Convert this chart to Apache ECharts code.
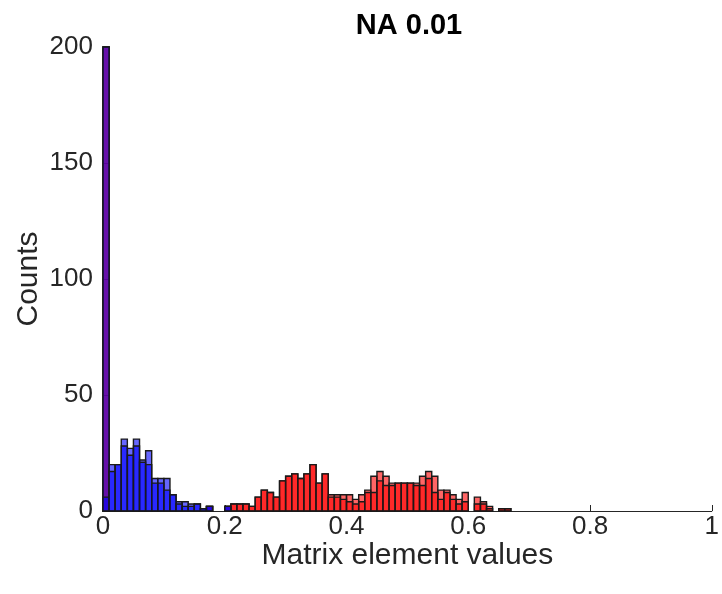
<!DOCTYPE html>
<html>
<head>
<meta charset="utf-8">
<script src="https://cdn.jsdelivr.net/npm/echarts@6/dist/echarts.min.js"></script>
<style>html,body{margin:0;padding:0;background:#fff;}#c{width:722px;height:594px;}</style>
</head>
<body>
<div id="c"></div>
<script>
// Histogram bins: width 0.01, starting at 0 (bins 0..66)
const binWidth = 0.01;
const xTicks = [0, 0.2, 0.4, 0.6, 0.8, 1];
const yTicks = [0, 50, 100, 150, 200];

// Blue histogram layers (counts per bin)
const blueOuter = [200,20,20,31,27,31,22,26,14,14,14,7,4,4,3,3,1,2,0,0,2];
const blueInner = [6,17,20,28,24,28,21,20,12,12,9,7,3,2,2,3,1,2,0,0,2];

// Red histogram layers (counts per bin)
const redOuter = [200,0,0,0,0,0,0,0,0,0,0,0,0,0,0,0,0,2,0,0,2,3,3,3,2,6,9,8,6,13,15,16,14,16,20,12,16,7,7,7,7,5,7,9,15,17,15,12,12,12,12,12,15,17,15,9,9,7,5,8,0,6,4,2,0,1,1];
const redInner = [200,0,0,0,0,0,0,0,0,0,0,0,0,0,0,0,0,2,0,0,2,3,3,3,2,6,9,8,6,13,15,16,14,16,20,12,16,6,6,5,4,3,4,8,8,13,11,11,12,12,12,11,11,14,8,5,8,5,3,4,0,3,3,1,0,1,1];

function toBins(counts) {
  const out = [];
  for (let i = 0; i < counts.length; i++) {
    out.push([+(i * binWidth).toFixed(2), +((i + 1) * binWidth).toFixed(2), counts[i]]);
  }
  return out;
}

function makeSeries(name, counts, color) {
  return {
    name: name,
    type: 'custom',
    data: toBins(counts),
    encode: { x: [0, 1], y: 2 },
    renderItem: function (params, api) {
      const c = api.value(2);
      if (!c) return null;
      const p0 = api.coord([api.value(0), c]);
      const p1 = api.coord([api.value(1), 0]);
      return {
        type: 'rect',
        shape: { x: p0[0], y: p0[1], width: p1[0] - p0[0], height: p1[1] - p0[1] },
        style: { fill: color, stroke: '#1a1a1a', lineWidth: 1.4 }
      };
    }
  };
}

const chart = echarts.init(document.getElementById('c'), null, { renderer: 'canvas' });
const font = 'Liberation Sans, Arial, Helvetica, sans-serif';
chart.setOption({
  animation: false,
  backgroundColor: '#ffffff',
  title: {
    text: 'NA 0.01',
    left: 404, top: 6, textAlign: 'center',
    textStyle: { fontFamily: font, fontSize: 29, fontWeight: 'bold', color: '#000' }
  },
  grid: { left: 103, right: 4, top: 47, bottom: 83, containLabel: false },
  xAxis: {
    type: 'value', min: 0, max: 1, interval: 0.2,
    name: 'Matrix element values', nameLocation: 'middle', nameGap: 30,
    nameMoveOverlap: false,
    nameTextStyle: { fontFamily: font, fontSize: 30, color: '#262626' },
    axisLine: { show: true, onZero: false, lineStyle: { color: '#262626', width: 1 } },
    axisTick: { show: true, inside: true, length: 6, lineStyle: { color: '#262626' } },
    axisLabel: { fontFamily: font, fontSize: 26, color: '#262626', margin: 3,
      formatter: function (v) { return String(v); } },
    splitLine: { show: false }
  },
  yAxis: {
    type: 'value', min: 0, max: 200, interval: 50,
    name: 'Counts', nameLocation: 'middle', nameGap: 59,
    nameMoveOverlap: false,
    nameTextStyle: { fontFamily: font, fontSize: 30, color: '#262626' },
    axisLine: { show: true, lineStyle: { color: '#262626', width: 1 } },
    axisTick: { show: true, inside: true, length: 6, lineStyle: { color: '#262626' } },
    axisLabel: { fontFamily: font, fontSize: 26, color: '#262626', margin: 10 },
    splitLine: { show: false }
  },
  series: [
    makeSeries('red outer', redOuter, 'rgba(255,0,0,0.6)'),
    makeSeries('red inner', redInner, 'rgba(255,0,0,0.6)'),
    makeSeries('blue outer', blueOuter, 'rgba(0,0,255,0.6)'),
    makeSeries('blue inner', blueInner, 'rgba(0,0,255,0.6)')
  ]
});
</script>
</body>
</html>
